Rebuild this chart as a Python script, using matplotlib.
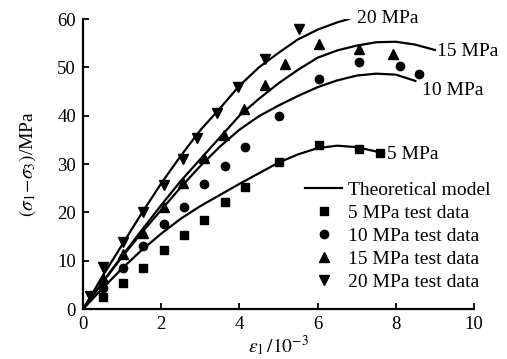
import matplotlib
matplotlib.use("Agg")
import matplotlib.pyplot as plt

plt.rcParams["font.family"] = ["Liberation Serif", "DejaVu Serif"]
plt.rcParams["mathtext.fontset"] = "stix"

# theoretical model curves
x_5 = [0, 0.5, 1, 1.5, 2, 2.5, 3, 3.5, 4, 4.5, 5, 5.5, 6, 6.5, 7, 7.5, 7.7]
y_5 = [0, 4.3, 8.4, 12.2, 15.6, 18.7, 21.3, 23.6, 25.9, 28.1, 30.3, 32.0, 33.3, 33.8, 33.5, 32.6, 32.1]

x_10 = [0, 0.5, 1, 1.5, 2, 2.5, 3, 3.5, 4, 4.5, 5, 5.5, 6, 6.5, 7, 7.5, 8, 8.5]
y_10 = [0, 5.5, 10.8, 15.8, 20.5, 25.2, 29.6, 33.6, 37.1, 39.9, 42.1, 44.1, 45.9, 47.3, 48.3, 48.7, 48.5, 47.2]

x_15 = [0, 0.5, 1, 1.5, 2, 2.5, 3, 3.5, 4, 4.5, 5, 5.5, 6, 6.5, 7, 7.5, 8, 8.5, 9]
y_15 = [0, 5.6, 11.0, 16.3, 21.5, 26.5, 31.0, 35.5, 40.0, 43.5, 46.7, 49.5, 52.0, 53.5, 54.5, 55.2, 55.3, 54.7, 53.6]

x_20 = [0, 0.5, 1, 1.5, 2, 2.5, 3, 3.5, 4, 4.5, 5, 5.5, 6, 6.5, 6.8]
y_20 = [0, 6.8, 13.3, 19.8, 26.0, 31.7, 37.0, 41.5, 46.2, 50.0, 53.0, 55.8, 57.8, 59.3, 60.0]

# test data
tx_5 = [0.52, 1.03, 1.54, 2.08, 2.59, 3.10, 3.63, 4.14, 5.01, 6.04, 7.07, 7.6]
ty_5 = [2.5, 5.3, 8.6, 12.2, 15.3, 18.4, 22.2, 25.2, 30.5, 34.0, 33.1, 32.2]

tx_10 = [0.52, 1.03, 1.54, 2.08, 2.59, 3.10, 3.63, 4.14, 5.01, 6.04, 7.07, 8.1, 8.6]
ty_10 = [4.3, 8.6, 13.1, 17.6, 21.2, 25.8, 29.5, 33.6, 40.0, 47.5, 51.2, 50.2, 48.6]

tx_15 = [0.52, 1.03, 1.54, 2.08, 2.57, 3.10, 3.61, 4.12, 4.65, 5.17, 6.04, 7.07, 7.94]
ty_15 = [6.5, 11.4, 15.7, 21.1, 26.0, 31.2, 36.0, 41.4, 46.4, 50.7, 54.9, 53.8, 52.8]

tx_20 = [0.18, 0.52, 1.03, 1.54, 2.08, 2.57, 2.92, 3.44, 3.97, 4.65, 5.52]
ty_20 = [2.8, 8.8, 13.9, 20.0, 25.7, 31.1, 35.3, 40.5, 46.0, 51.7, 57.9]

curve_labels = ["5 MPa", "10 MPa", "15 MPa", "20 MPa"]

fig = plt.figure(figsize=(5.07, 3.59), dpi=100)
ax = fig.add_axes([0.1637, 0.139, 0.7712, 0.808])

lw = 1.6
ax.plot(x_5, y_5, color="black", lw=lw, label="Theoretical model")
ax.plot(x_10, y_10, color="black", lw=lw)
ax.plot(x_15, y_15, color="black", lw=lw)
ax.plot(x_20, y_20, color="black", lw=lw)

ax.plot(tx_5, ty_5, "s", color="black", ms=5.5, ls="none", label="5 MPa test data")
ax.plot(tx_10, ty_10, "o", color="black", ms=6, ls="none", label="10 MPa test data")
ax.plot(tx_15, ty_15, "^", color="black", ms=6.5, ls="none", label="15 MPa test data")
ax.plot(tx_20, ty_20, "v", color="black", ms=6.5, ls="none", label="20 MPa test data")

fs = 14
ax.text(7.0, 60.2, curve_labels[3], fontsize=fs, va="center", ha="left")
ax.text(9.05, 53.2, curve_labels[2], fontsize=fs, va="center", ha="left")
ax.text(8.67, 45.3, curve_labels[1], fontsize=fs, va="center", ha="left")
ax.text(7.77, 31.9, curve_labels[0], fontsize=fs, va="center", ha="left")

ax.set_xlim(0, 10)
ax.set_ylim(0, 60)
ax.set_xticks(range(0, 11, 2))
ax.set_yticks(range(0, 61, 10))
for s in ["top", "right"]:
    ax.spines[s].set_visible(False)
for s in ["left", "bottom"]:
    ax.spines[s].set_linewidth(1.6)
ax.tick_params(direction="in", length=4, width=1.3, labelsize=13.5, pad=5)

ax.set_xlabel(r"$\varepsilon_1\,/10^{-3}$", fontsize=fs, labelpad=0)
ax.set_ylabel(r"$(\sigma_1\!-\!\sigma_3)$/MPa", fontsize=fs, labelpad=14)

ax.legend(loc="upper left", bbox_to_anchor=(0.568, 0.44), borderaxespad=0,
          frameon=False, fontsize=fs, handlelength=1.9, handletextpad=0.3,
          labelspacing=0.28, borderpad=0)

fig.savefig("out.png", dpi=100)
